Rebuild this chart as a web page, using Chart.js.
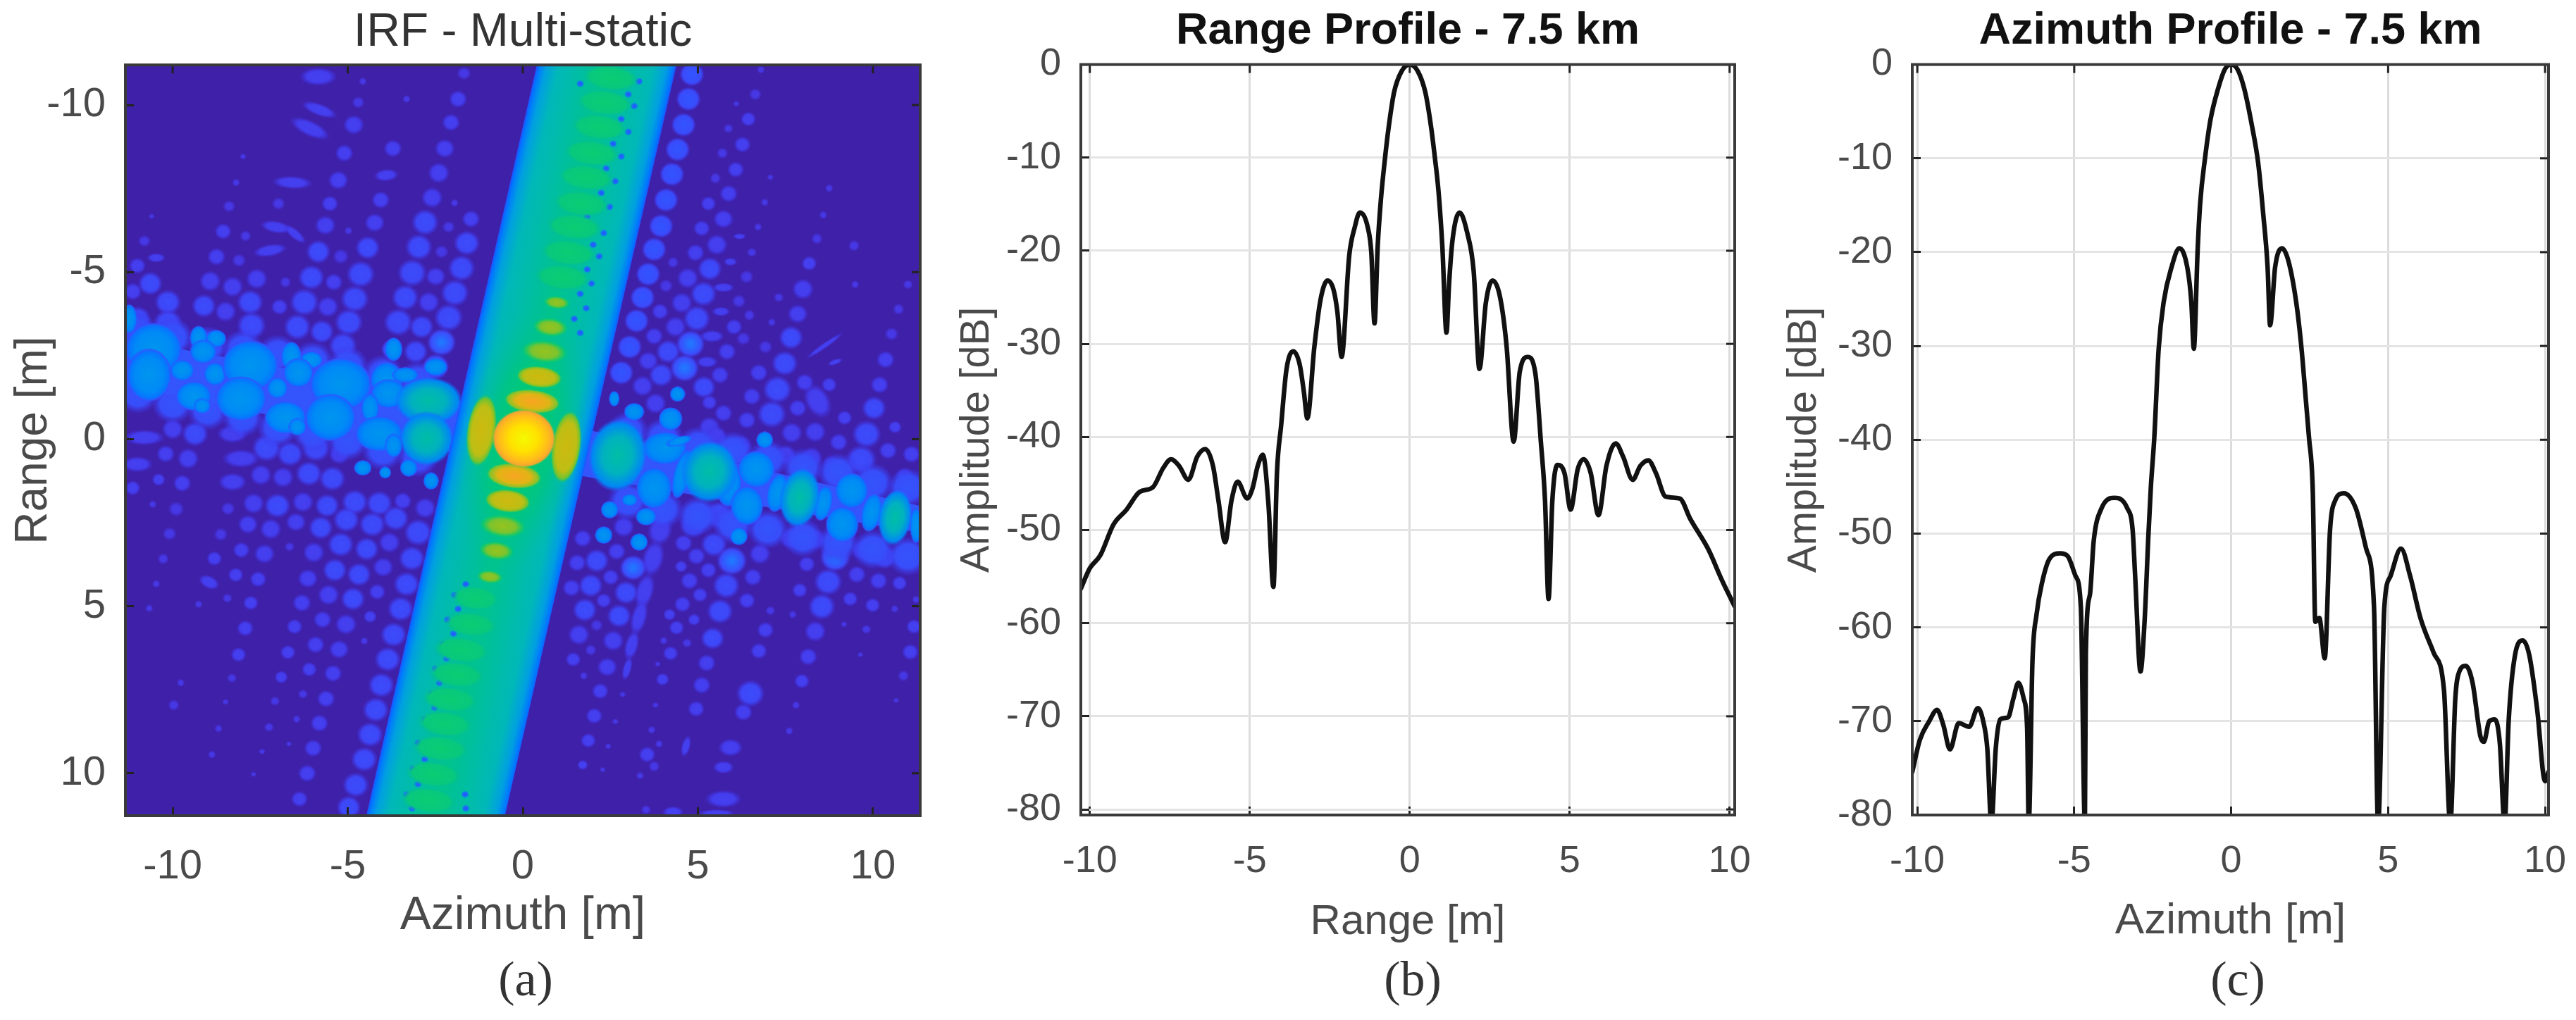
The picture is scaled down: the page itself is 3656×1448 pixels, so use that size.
<!DOCTYPE html>
<html>
<head>
<meta charset="utf-8">
<script src="https://cdn.jsdelivr.net/npm/chart.js@4/dist/chart.umd.min.js"></script>
<style>
  html, body { margin: 0; background: #fff; }
  body { width: 3656px; height: 1448px; position: relative; overflow: hidden; }
  canvas { position: absolute; }
  .cap { position: absolute; top: 1350px; width: 200px; text-align: center;
         font: 70px "Liberation Serif", serif; color: #333; }
</style>
</head>
<body>
<canvas id="heat"></canvas>
<canvas id="rangeChart"></canvas>
<canvas id="azChart"></canvas>
<div class="cap" style="left:646px">(a)</div>
<div class="cap" style="left:1905px">(b)</div>
<div class="cap" style="left:3076px">(c)</div>
<script>
// ---- tick labels
const heatAzTicks = [-10, -5, 0, 5, 10]
const heatRangeTicks = [-10, -5, 0, 5, 10]
const profileXTicks = [-10, -5, 0, 5, 10]
const dbTicks = [0, -10, -20, -30, -40, -50, -60, -70, -80]

// ---- range profile (b)
const rangeX = [-10.28,-10,-9.67,-9.26,-8.85,-8.44,-8.03,-7.7,-7.46,-7.21,-6.92,-6.64,-6.39,-6.15,-5.98,-5.77,-5.57,-5.38,-5.08,-4.92,-4.75,-4.59,-4.42,-4.26,-4.15,-4.02,-3.85,-3.64,-3.44,-3.31,-3.2,-2.98,-2.79,-2.57,-2.38,-2.26,-2.13,-1.89,-1.72,-1.56,-1.31,-1.2,-1.1,-1,-0.9,-0.77,-0.66,-0.49,-0.25,0,0.25,0.49,0.66,0.77,0.9,1.02,1.15,1.23,1.34,1.56,1.8,2,2.18,2.38,2.59,2.82,3.03,3.25,3.44,3.69,3.93,4.1,4.23,4.34,4.46,4.62,4.84,5.03,5.25,5.44,5.66,5.9,6.15,6.44,6.67,6.97,7.21,7.46,7.7,8,8.44,8.77,9.34,9.75,10.16]
const rangeDb = [-56.3,-54.1,-52.7,-49.4,-47.8,-45.9,-45.4,-43.3,-42.4,-43.1,-44.6,-42.1,-41.3,-43.1,-46.8,-51.3,-46.8,-44.8,-46.6,-45.6,-43.1,-41.9,-47,-56.1,-43.9,-38.8,-32.7,-30.8,-32.2,-35.1,-38,-30.3,-25.3,-23.2,-24.2,-26.6,-31.4,-20.5,-17.5,-15.9,-17.5,-20.2,-27.8,-19.5,-14.5,-10,-6.8,-3,-0.7,0,-0.7,-3,-6.5,-9.5,-13.6,-19.5,-28.8,-23.6,-18.8,-15.9,-18.1,-22.2,-32.7,-25.6,-23.2,-24.9,-30.3,-40.5,-33,-31.4,-33.2,-40.5,-46.8,-57.4,-46.8,-43,-43.9,-47.8,-43.5,-42.4,-43.9,-48.4,-43.1,-40.7,-42.1,-44.6,-43.1,-42.5,-43.9,-46.4,-46.6,-48.8,-52.1,-55.3,-58.2]

// ---- azimuth profile (c)
const azX = [-10.16,-9.92,-9.62,-9.37,-9.17,-8.96,-8.68,-8.35,-8.07,-7.9,-7.77,-7.64,-7.5,-7.36,-7.11,-6.94,-6.78,-6.61,-6.5,-6.45,-6.33,-6.2,-6.03,-5.79,-5.45,-5.21,-4.96,-4.79,-4.66,-4.63,-4.5,-4.38,-4.13,-3.72,-3.31,-3.14,-3.06,-2.89,-2.76,-2.64,-2.56,-2.45,-2.31,-2.15,-1.9,-1.65,-1.4,-1.27,-1.19,-1.07,-0.99,-0.83,-0.66,-0.41,-0.2,0,0.2,0.41,0.66,0.86,1.02,1.16,1.24,1.4,1.62,1.82,2.07,2.23,2.4,2.48,2.6,2.68,2.81,2.98,3.15,3.31,3.59,3.97,4.3,4.55,4.68,4.88,5.08,5.41,5.7,6.03,6.45,6.78,6.98,7.14,7.27,7.47,7.69,7.94,8.05,8.22,8.4,8.56,8.71,8.84,9.04,9.29,9.5,9.75,10,10.11]
const azDb = [-75.4,-72,-70,-68.8,-70.4,-73,-70.2,-70.6,-68.6,-70,-72.9,-81,-72.9,-69.8,-69.6,-67.6,-65.9,-67.6,-70.8,-81,-63.5,-58.6,-55.3,-52.7,-52.1,-52.4,-54.5,-57.8,-81,-62.7,-56.5,-50.8,-47.3,-46.2,-47.3,-49.6,-54.5,-64.7,-59.4,-50.4,-45.1,-39.8,-30.3,-25.3,-21.6,-19.6,-21.6,-25.3,-30.3,-19.9,-14.9,-9.9,-5.9,-2.5,-0.5,0,-0.5,-2.5,-6.5,-10.5,-15.9,-21.6,-27.8,-21.6,-19.6,-20.9,-25.3,-29.9,-36.6,-39.8,-45.5,-59.4,-59,-63.3,-49.6,-46.5,-45.7,-47.3,-51.6,-57.8,-81,-57.8,-54.5,-51.6,-54.5,-59,-62.7,-66.7,-81,-67.6,-64.7,-64.1,-65.9,-71.6,-72.2,-70,-69.8,-72.4,-81,-70,-63,-61.4,-63,-68.8,-76.4,-75.4]

// ---- IRF image (a), all in metres: [azimuth, range, radius]
const faintLobes = [
  [-1.68,-10.95,.17],[-4.7,-10.08,.15],[-4.57,-10.71,.1],[-3.32,-10.18,.1],[-7.99,-8.46,.08],[-8.19,-7.68,.1],[-8.39,-6.97,.15],[-6.98,-7.05,.16],[-10.6,-6.67,.07],[-1.95,-7.07,.1],[-4.98,-6.24,.1],[-7.92,-6.08,.14],[-10.81,-5.93,.15],[-2.12,-6.35,.15],[-2.32,-5.61,.17],[-5.2,-5.47,.19],[-8.11,-5.35,.17],[-6.78,-4.7,.14],
  [-10.57,1.95,.1],[-6.66,3.22,.12],[-10.27,3.58,.14],[-10.47,4.33,.1],[-8.44,4.76,.12],[-10.67,5.06,.1],[-9.26,4.94,.1],[-4.53,6.04,.1],[-8.31,7.15,.12],[-9.77,7.29,.1],[-7.08,7.84,.12],[-6.28,7.63,.12],[-9.97,7.96,.14],[-8.49,7.86,.08],[-7.25,8.62,.12],[-6.46,8.38,.1],[-8.69,8.66,.1],[-7.45,9.35,.08],[-8.88,9.44,.1],[-6.68,9.12,.07],[-7.69,10.03,.07],[-10.09,2.83,.17],[-8.63,2.85,.17],[-9.9,2.09,.19],[-8.42,2.08,.17],
  [6.8,-11.06,.1],[6.64,-10.32,.15],[6.1,-10.04,.08],[5.87,-9.3,.12],[5.7,-8.56,.14],[5.5,-7.81,.14],[7.07,-7.84,.08],[6.91,-7.09,.1],[6.72,-6.35,.1],[6.54,-5.59,.11],[8.75,-7.51,.1],[8.58,-6.71,.1],[8.4,-6,.14],[9.46,-5.79,.14],[9.49,-4.63,.1],[11,-4.63,.12],[10.73,-3.89,.14],[7.31,-4.24,.12],[7.11,-3.5,.1],[6.47,-3.71,.14],[4.29,-5.29,.14],[4.09,-4.59,.17],[6.39,-4.86,.17],[6.17,-4.13,.17],[6.3,-3.01,.17],[6.93,-2.76,.17],[10.53,-3.15,.17],
  [3.68,8.7,.1],[3.79,7.96,.08],[3.85,6.73,.07],[2.85,7.64,.08],[2.64,8.45,.08],[2.44,9.19,.08],[2.28,9.89,.07],[1.74,7.08,.1],[1.94,6.31,.14],[2.11,5.57,.15],[7.71,5.25,.1],[7.8,7.96,.1],[7.61,8.73,.1],[9.17,5.54,.08],[9.81,5.69,.12],[9.64,6.45,.07],[10.62,5.08,.1],[10.87,7.08,.14],[10.66,7.82,.07],[11.23,4.8,.1],[7.07,5.13,.12],[3.89,9.12,.1],[3.75,9.79,.14],[3.52,11.09,.12],[3.35,10.07,.1],[4.02,6.03,.1],[4.69,6.1,.12]
]
const blueLobes = [
  [-1.85,-10.18,.2],[-4.83,-9.41,.23],[-2.05,-9.48,.2],[-5.1,-8.56,.2],[-3.71,-8.7,.2],[-2.23,-8.7,.22],[-5.27,-7.75,.22],[-2.4,-7.97,.24],[-5.51,-7.05,.19],[-4.06,-7.16,.2],[-2.59,-7.23,.24],[-8.56,-6.22,.19],[-5.64,-6.4,.23],[-4.23,-6.48,.22],[-2.79,-6.49,.29],[-1.48,-6.59,.2],[-8.75,-5.46,.2],[-11.01,-5.19,.19],[-5.84,-5.61,.26],[-4.43,-5.73,.26],[-2.97,-5.75,.29],[-1.6,-5.87,.28],[-8.93,-4.73,.24],[-8.29,-4.56,.24],[-7.6,-4.8,.24],[-11.14,-4.42,.2],[-6.04,-4.84,.28],[-5.4,-4.7,.2],[-4.63,-4.94,.3],[-3.16,-4.98,.31],[-2.49,-4.87,.22],[-1.75,-5.12,.29],[-9.11,-3.99,.26],[-8.49,-3.82,.24],[-7.79,-4.1,.28],[-6.95,-3.96,.19],[-6.24,-4.1,.31],[-5.57,-3.96,.24],[-4.8,-4.2,.3],[-3.36,-4.24,.29],[-2.69,-4.1,.24],[-1.94,-4.38,.3],[-6.44,-3.36,.29],[-5.74,-3.22,.26],[-4.97,-3.5,.3],[-3.56,-3.5,.31],[-2.89,-3.36,.26],[-2.12,-3.64,.31],[-7.75,-3.4,.31],[-10.14,-4.1,.28],[-10.64,-4.66,.26],[-5.14,-2.8,.3],[-3.06,-2.62,.26],[-10.14,-3.47,.31],[-11,-3.6,.28],
  [-10,-.3,.24],[-9.36,-.16,.28],[-10.2,.44,.2],[-9.56,.58,.24],[-10.4,1.21,.15],[-9.73,1.32,.2],[-11.14,1.46,.17],[-7.32,.26,.31],[-6.65,.44,.28],[-5.91,.26,.31],[-5.24,.44,.24],[-7.48,1.07,.24],[-6.85,1.14,.24],[-6.11,1.03,.28],[-5.44,1.18,.28],
  [-7.69,1.92,.24],[-7.01,1.99,.28],[-6.28,1.88,.24],[-5.59,1.99,.26],[-4.8,1.88,.28],[-4.1,1.92,.28],[-3.43,1.85,.2],[-2.79,2.06,.24],[-7.85,2.55,.22],[-7.2,2.69,.24],[-6.48,2.48,.22],[-5.77,2.65,.26],[-5.04,2.41,.28],[-4.3,2.55,.28],[-3.63,2.37,.28],[-2.99,2.79,.3],[-8.04,3.32,.19],[-7.38,3.43,.23],[-5.97,3.39,.24],[-5.2,3.15,.28],[-4.46,3.29,.26],[-3.81,3.09,.24],[-3.17,3.57,.28],[-8.81,3.57,.17],[-8.2,4.06,.17],[-7.56,4.19,.19],[-6.14,4.17,.22],[-5.37,3.92,.26],[-4.68,4.05,.26],[-3.99,3.83,.23],[-3.32,4.34,.28],[-7.77,4.9,.17],[-6.31,4.9,.21],[-5.55,4.66,.24],[-4.85,4.78,.26],[-4.16,4.57,.19],[-3.49,5.08,.28],[-7.93,5.66,.19],[-6.52,5.61,.18],[-5.72,5.4,.2],[-5.05,5.54,.24],[-4.36,5.31,.15],[-3.69,5.85,.28],[-8.12,6.45,.17],[-6.71,6.38,.17],[-5.92,6.15,.2],[-5.25,6.29,.22],[-3.86,6.59,.28],[-6.9,7.12,.15],[-6.1,6.89,.17],[-5.42,7.01,.2],[-4.04,7.36,.28],[-5.62,7.77,.2],[-4.2,8.1,.28],[-5.81,8.5,.2],[-4.36,8.84,.28],[-5.99,9.25,.2],[-4.53,9.58,.28],[-6.16,10,.2],[-6.38,10.77,.19],[-4.77,10.35,.28],[-4.97,11.02,.26],
  [6.44,-9.58,.17],[6.27,-8.82,.19],[6.08,-8.07,.19],[5.88,-7.35,.2],[5.3,-7.05,.17],[5.73,-6.59,.22],[5.11,-6.31,.19],[5.54,-5.82,.24],[4.93,-5.58,.2],[5.34,-5.1,.26],[4.71,-4.82,.24],[5.16,-4.35,.28],[4.54,-4.08,.24],[4.97,-3.61,.29],[4.36,-3.36,.24],[4.15,-2.62,.26],[3.95,-1.92,.26],[3.92,-3.82,.19],[3.75,-3.08,.2],[3.58,-2.34,.22],[6.03,-3.36,.19],[5.83,-2.62,.2],[5.63,-1.92,.2],[8.18,-5.26,.17],[8,-4.49,.24],[7.85,-3.75,.22],[7.66,-3.04,.26],[7.48,-2.27,.28],[6.74,-1.99,.2],[10.36,-2.38,.2],
  [3.42,-1.59,.24],[7.27,-1.49,.31],[8.75,-1.63,.17],[10.19,-1.63,.2],[8.05,-1.7,.2],[6.54,-1.28,.2],[5.17,-1.56,.25],[10.03,-.93,.26],[7.85,-.93,.2],[7.11,-.75,.32],[9.19,-.64,.17],[8.35,-.22,.24],[7.68,-.19,.24],[9.82,-.15,.31],[9.02,.09,.2],[10.63,-.36,.15],[5.33,-1.1,.17],[5.73,-.78,.2],[6.4,-.57,.2],[5.33,-.36,.24],[5.53,-.08,.24],[6.23,.2,.24],[7.51,.48,.24],[8.25,.55,.24],[8.82,.76,.2],[9.66,.62,.33],[10.43,.34,.2],[11.1,.45,.2],[10.9,1.11,.2],[10.16,1.25,.2],[3.79,-1.07,.24],
  [2.88,2.62,.24],[2.11,3.64,.26],[1.94,4.38,.26],[2.95,4.59,.26],[1.77,5.11,.26],[2.75,5.29,.26],[1.6,5.85,.24],[2.58,6.03,.24],[1.44,6.59,.17],[2.41,6.82,.22],[2.21,7.54,.19],[2.04,8.28,.19],[1.87,9.02,.17],[1.71,9.75,.12],[1.71,2.97,.2],[1.55,3.7,.2],[1.39,4.45,.2],[2.68,3.36,.2],[2.51,4.13,.19],[2.31,4.83,.17],
  [4.86,2.58,.28],[4.59,3.11,.2],[4.96,3.5,.2],[5.3,3.92,.19],[4.76,4.24,.2],[5.06,4.66,.17],[4.52,3.81,.14],[4.56,4.94,.19],[4.89,5.4,.14],[4.39,5.64,.17],[4.19,5.25,.14],[4.22,6.41,.17],[3.99,7.19,.15],[5.6,2.27,.31],[5.46,3.15,.28],[5.81,4.38,.29],[5.63,5.15,.28],[5.42,5.96,.25],[5.25,6.7,.2],[5.11,7.36,.2],[4.95,8.07,.19],[6.4,4.83,.19],[6.57,4.13,.2],[6.77,3.43,.24],[6.94,2.65,.28],[6.93,5.71,.19],[6.74,6.34,.19],[8.11,3.74,.19],[7.91,4.52,.17],[7.64,2.97,.24],[8.35,3,.24],[8.72,4.27,.3],[8.54,5.01,.29],[8.35,5.75,.24],[8.15,6.51,.2],[7.97,7.24,.17],[9.69,3.32,.24],[9.54,4.05,.2],[9.35,4.78,.17],[10.33,3.53,.26],[10.16,4.24,.2],[9.99,4.97,.17],[10.76,4.31,.17],[10.97,3.57,.2],[11.17,5.61,.17],[11.07,6.37,.19],[6.5,7.61,.3],[6.3,8.17,.2],[3.55,9.44,.19]
]
const brightLobes = [
  [-2.32,-2.9,.31],[-3.73,-2.69,.24],[-2.49,-2.17,.29],[4.79,-2.85,.31],[4.62,-2.13,.31],[3.15,3.85,.29],[5.97,3.64,.33],[8.92,3.53,.33]
]
const stripLobes = [
  [4.83,-10.92,.28],[4.73,-10.18,.28],[4.59,-9.41,.28],[4.42,-8.67,.28],[4.26,-7.93,.28],[4.09,-7.16,.28],[3.95,-6.38,.28],[3.75,-5.68,.28],[3.58,-4.94,.28],[3.42,-4.24,.28],[3.25,-3.54,.28],[3.05,-2.76,.28],[2.81,-1.99,.28]
]
// lumpy rim of the cross band
const rimLobes = [
  [-11,-3.2,.5],[-10,-3.05,.5],[-9,-2.8,.5],[-8,-2.7,.5],[-7,-2.55,.5],[-6,-2.35,.5],[-5,-2.2,.5],[-4,-1.95,.5],[-3,-1.75,.5],
  [-11,-1.35,.5],[-10,-1.05,.5],[-9,-.85,.5],[-8,-.65,.5],[-7,-.35,.5],[-6,-.2,.5],[-5,.05,.5],[-4,.35,.5],[-3,.55,.5],
  [3,-.25,.5],[4,-.05,.5],[5,.2,.5],[6,.35,.5],[7,.6,.5],[8,.85,.5],[9,1,.5],[10,1.3,.5],[11,1.45,.5],
  [3,1.85,.5],[4,2.1,.5],[5,2.3,.5],[6,2.55,.5],[7,2.7,.5],[8,2.95,.5],[9,3.1,.5],[10,3.3,.5],[11,3.5,.5]
]
// [azimuth, range, half width, half height, tilt in degrees]
const tiltedLobes = [
  [-5.84,-10.85,.41,.21,0],[-5.81,-9.86,.41,.14,20],[-6.08,-9.3,.47,.18,25],[-6.58,-7.68,.44,.15,3],[-3.9,-7.9,.27,.14,-5],[-7.05,-6.35,.34,.14,10],[-6.51,-6.14,.3,.11,40],[-7.22,-5.65,.37,.14,-10],[-10.47,-5.43,.2,.11,0],[-10.81,-.05,.45,.18,0],[-11.01,.75,.34,.18,0],[-8.29,-.16,.34,.21,0],[-8.05,.58,.41,.21,0],[-8.29,1.28,.31,.21,0],[-8.96,4.28,.24,.15,25],
  [5.73,-4.54,.24,.11,0],[5.66,-3.82,.2,.11,0],[5.4,-3.08,.27,.14,0],[5.26,-2.31,.24,.13,0],[5.93,-5.31,.15,.09,0],[6.19,-6.07,.14,.07,0],[8.62,-2.8,.5,.06,-35],[8.92,-2.31,.17,.06,-20],[8.42,-1.14,.27,.42,-30],
  [3.92,2.72,.27,.35,15],[3.72,3.57,.24,.42,15],[3.48,4.55,.2,.42,15],[3.32,5.33,.17,.42,15],[3.11,6.17,.15,.35,15],[2.98,6.87,.1,.28,15],
  [5.93,9.23,.27,.2,0],[5.73,9.82,.23,.15,0],[5.73,10.77,.4,.2,0],[5.53,11.2,.4,.09,0],[4.29,11.16,.23,.13,0],[4.66,9.19,.1,.25,15]
]
const crossLobes = [
  [-10.54,-2.69,.64,.63,0],[-10.67,-1.92,.5,.63,0],[-9.26,-3.04,.2,.28,0],[-8.76,-3.01,.23,.21,0],[-9.13,-2.62,.3,.28,0],[-9.4,-1.29,.4,.35,0],[-9.16,-1,.19,.18,0],[-8.79,-1.95,.25,.27,0],[-9.73,-2.06,.27,.25,0],[-7.79,-2.2,.64,.6,0],[-8.05,-1.21,.57,.53,0],[-6.61,-2.48,.23,.35,0],[-6.04,-2.37,.25,.2,0],[-6.41,-1.99,.34,.35,0],[-7.01,-1.53,.23,.25,0],[-6.78,-.65,.47,.39,0],[-6.44,-.37,.2,.21,0],[-5.2,-1.64,.7,.63,0],[-5.5,-.65,.57,.56,0],[-3.89,-1.78,.37,.42,0],[-3.36,-1.92,.3,.18,0],[-3.83,-1.36,.4,.35,0],[-4.36,-.93,.2,.35,0],[-4.1,-.16,.54,.42,0],[-3.69,.19,.2,.28,0],[-3.69,-2.69,.2,.28,0],[-2.49,-2.16,.27,.21,0],[-3.26,.86,.2,.21,0],[-2.62,1.25,.17,.21,0],[-4.57,.86,.2,.18,0],[-3.93,1,.13,.14,0],[-11.24,-3.6,.17,.35,0],
  [4.05,.27,.5,.39,0],[4.46,.06,.3,.11,-15],[3.75,1.46,.4,.49,0],[5.87,1.32,.3,.56,0],[4.56,1.04,.2,.6,15],[6.67,.9,.42,.44,0],[6.4,1.99,.37,.46,0],[7.27,1.61,.23,.46,12],[8.58,1.92,.2,.42,12],[9.39,1.54,.37,.42,0],[9.12,2.55,.37,.42,0],[9.96,2.2,.22,.46,12],[11.23,2.59,.13,.42,0],
  [3.18,-.82,.23,.21,0],[4.22,-.61,.27,.27,0],[4.42,-1.35,.17,.18,0],[2.61,-1.21,.12,.18,0],[2.48,2.11,.21,.21,0],[3.52,2.32,.23,.22,0],[3.05,1.82,.17,.14,0],[6.17,2.91,.2,.21,0],[6.91,.02,.19,.2,0],[2.31,2.87,.2,.21,0],[3.32,3.08,.2,.21,0]
]
const tealLobes = [[2.71,.48,.69,.91,8],[5.33,.97,.67,.77,10],[7.91,1.75,.47,.74,10],[10.63,2.34,.4,.7,8],[-2.69,-1.14,.8,.6,0],[-2.75,-.02,.64,.67,0]]
// blue wash the cross lobes sit in
const washAz = [-11.35,-2,2.2,11.35,11.35,2.2,-2,-11.35,-11.35]
const washRange = [-3,-1.2,-.2,2,2.8,1.2,.4,-1.6,-3]
// tilted main band corners
const bandAz = [0.4, 4.39, -0.51, -4.47, 0.4]
const bandRange = [-11.2, -11.2, 11.27, 11.27, -11.2]
const bandDots = [
  [1.64,-10.64],[3.32,-10.71],[3.01,-10.32],[3.18,-9.97],[2.81,-9.58],[3.01,-9.2],[2.58,-8.84],[2.81,-8.46],[2.38,-8.1],[2.64,-7.72],[2.24,-7.37],[2.48,-6.95],[1.84,-6.67],[2.31,-6.17],[2.01,-5.82],[2.18,-5.47],[1.84,-5.08],[1.96,-4.66],[1.64,-4.35],[1.81,-3.92],[1.47,-3.6],[1.64,-3.18],
  [-1.63,4.34],[-1.95,4.66],[-1.85,5.08],[-2.15,5.4],[-1.98,5.82],[-2.28,6.13],[-2.18,6.56],[-2.5,6.87],[-2.38,7.29],[-2.6,7.61],[-2.52,8.03],[-2.8,8.38],[-2.99,9.09],[-2.8,9.58],[-3.14,9.86],[-2.99,10.32],[-3.32,10.63],[-3.16,11.05],[-1.65,10.63],[-1.63,11.05]
]
const greenLobes = [
  [2.51,-10.81,.64,.32,6],[2.34,-10.07,.64,.32,6],[2.18,-9.34,.64,.32,6],[1.97,-8.56,.64,.32,6],[1.81,-7.83,.64,.32,6],[1.67,-7.05,.64,.32,6],[1.47,-6.35,.64,.32,6],[1.3,-5.58,.64,.32,6],[1.13,-4.84,.64,.32,6],
  [-1.35,4.76,.55,.3,6],[-1.48,5.54,.6,.3,6],[-1.75,6.31,.64,.32,6],[-1.88,7.05,.64,.32,6],[-2.08,7.79,.64,.32,6],[-2.22,8.52,.64,.32,6],[-2.35,9.26,.64,.32,6],[-2.55,10.03,.64,.32,6],[-2.69,10.81,.64,.32,6]
]
const oliveLobes = [
  [.97,-4.09,.27,.14,6],[-.94,4.12,.27,.14,6],[.79,-3.35,.37,.2,6],[-.75,3.34,.37,.2,6],[.62,-2.62,.48,.25,6],[-.57,2.6,.48,.25,6]
]
const amberLobes = [
  [.47,-1.86,.57,.28,6],[-.43,1.85,.57,.3,6],[-1.18,-.26,.37,.95,8],[1.24,.23,.37,.95,8]
]
const orangeLobes = [[.27,-1.13,.67,.3,6],[-.25,1.1,.66,.32,6]]
const peakLobe = [[.03,-.02,.86,.83,0]]
const bandGlow = [[0,0,1.7,4.2,12]]

// colour stops of each lobe class, from centre to edge
const lobeStops = {
  faint:  [[0,'rgba(70,56,228,1)'],[.5,'rgba(70,56,228,1)'],[1,'rgba(70,50,220,0)']],
  mid:    [[0,'rgba(68,64,240,1)'],[.6,'rgba(68,62,238,1)'],[1,'rgba(66,50,225,0)']],
  blue:   [[0,'rgba(60,76,252,1)'],[.62,'rgba(62,72,248,1)'],[1,'rgba(66,56,235,0)']],
  bright: [[0,'rgba(30,125,255,1)'],[.4,'rgba(45,100,255,1)'],[.72,'rgba(60,78,252,1)'],[1,'rgba(66,60,240,0)']],
  strip:  [[0,'rgba(50,85,255,1)'],[.72,'rgba(58,76,252,1)'],[1,'rgba(66,60,240,0)']],
  rim:    [[0,'rgba(52,84,252,1)'],[.6,'rgba(56,78,250,1)'],[1,'rgba(66,56,235,0)']],
  cross:  [[0,'rgba(0,150,238,1)'],[.66,'rgba(0,138,247,1)'],[.88,'rgba(10,115,255,1)'],[.95,'rgba(50,85,255,.9)'],[1,'rgba(60,70,250,0)']],
  teal:   [[0,'rgba(0,190,165,1)'],[.5,'rgba(0,178,190,1)'],[.86,'rgba(0,135,245,1)'],[1,'rgba(30,100,255,0)']],
  glow:   [[0,'rgba(0,205,100,.95)'],[.55,'rgba(0,200,120,.7)'],[1,'rgba(0,190,150,0)']],
  dot:    [[0,'rgba(35,85,255,1)'],[.6,'rgba(30,100,255,.9)'],[1,'rgba(0,160,220,0)']],
  green:  [[0,'rgba(10,205,115,1)'],[.72,'rgba(8,200,125,1)'],[1,'rgba(0,185,160,0)']],
  olive:  [[0,'rgba(150,195,30,1)'],[.55,'rgba(125,195,45,1)'],[.8,'rgba(30,200,100,1)'],[1,'rgba(0,200,120,0)']],
  amber:  [[0,'rgba(205,185,15,1)'],[.68,'rgba(190,190,20,1)'],[.88,'rgba(110,195,50,1)'],[1,'rgba(10,200,110,0)']],
  orange: [[0,'rgba(250,165,35,1)'],[.6,'rgba(225,180,20,1)'],[.88,'rgba(130,195,45,1)'],[1,'rgba(10,200,110,0)']],
  peak:   [[0,'rgba(245,250,0,1)'],[.45,'rgba(255,225,0,1)'],[.8,'rgba(255,185,30,1)'],[.93,'rgba(245,165,50,1)'],[1,'rgba(120,195,50,0)']]
}
// the soft edge eats into a lobe, so each class is drawn a bit wider than read
const lobeGrow = { faint: 1.25, mid: 1.35, blue: 1.4, bright: 1.35, strip: 1.3, rim: 1.2, cross: 1.28, teal: 1.22, glow: 1, dot: 1.2, green: 1.3, olive: 1.4, amber: 1.15, orange: 1.2, peak: 1.05 }

// soft ellipse sprite, built once per size and class
const spriteCache = {}
function lobeSprite(w, h, cls) {
  const key = cls + Math.round(w) + 'x' + Math.round(h)
  if (spriteCache[key]) return spriteCache[key]
  const c = document.createElement('canvas')
  c.width = Math.max(2, Math.round(w * 2))
  c.height = Math.max(2, Math.round(h * 2))
  const g = c.getContext('2d')
  g.translate(c.width / 2, c.height / 2)
  g.scale(c.width / 2, c.height / 2)
  const grad = g.createRadialGradient(0, 0, 0, 0, 0, 1)
  lobeStops[cls].forEach((s) => grad.addColorStop(s[0], s[1]))
  g.fillStyle = grad
  g.beginPath()
  g.arc(0, 0, 1, 0, Math.PI * 2)
  g.fill()
  spriteCache[key] = c
  return c
}

//one scatter dataset of soft lobes
function lobeSet(list, cls, drawOrder) {
  return {
    data: list.map((p) => p.length > 3
      ? { x: p[0], y: p[1], w: p[2], h: p[3], deg: p[4] }
      : { x: p[0], y: p[1], w: p[2], h: p[2], deg: 0 }),
    order: drawOrder,
    pointRadius: 1,
    pointBorderWidth: 0,
    pointRotation: (c) => c.raw ? c.raw.deg : 0,
    pointStyle: (c) => {
      const sx = c.chart.scales.x, sy = c.chart.scales.y
      if (!c.raw || !sx || !sy) return 'circle'
      const pxX = Math.abs(sx.getPixelForValue(1) - sx.getPixelForValue(0))
      const pxY = Math.abs(sy.getPixelForValue(1) - sy.getPixelForValue(0))
      if (!isFinite(pxX) || !isFinite(pxY)) return 'circle'
      return lobeSprite(c.raw.w * pxX * lobeGrow[cls], c.raw.h * pxY * lobeGrow[cls], cls)
    }
  }
}

//gradient straight across the tilted band
function bandFill(c) {
  const sx = c.chart.scales.x, sy = c.chart.scales.y
  if (!sx || !sy) return '#00be9c'
  const p = (i) => [sx.getPixelForValue(bandAz[i]), sy.getPixelForValue(bandRange[i])]
  const a = p(0), b = p(1), d = p(3)
  let nx = d[1] - a[1], ny = a[0] - d[0]
  const len = Math.hypot(nx, ny)
  nx /= len; ny /= len
  const across = (b[0] - a[0]) * nx + (b[1] - a[1]) * ny
  const gx = (a[0] + d[0]) / 2, gy = (a[1] + d[1]) / 2
  if (!isFinite(gx + gy + nx + ny + across)) return '#00be9c'
  const g = c.chart.ctx.createLinearGradient(gx, gy, gx + nx * across, gy + ny * across)
  g.addColorStop(0, '#2050ff')
  g.addColorStop(.02, '#0078ff')
  g.addColorStop(.07, '#00a0e0')
  g.addColorStop(.16, '#00b8b8')
  g.addColorStop(.5, '#00c48c')
  g.addColorStop(.84, '#00b8b8')
  g.addColorStop(.93, '#00a0e0')
  g.addColorStop(.98, '#0078ff')
  g.addColorStop(1, '#2050ff')
  return g
}

//frame round the plot with the ticks mirrored on the far sides, like a boxed MATLAB axes
const framePlugin = {
  id: 'frame',
  afterDraw(chart) {
    const a = chart.chartArea, g = chart.ctx
    g.save()
    g.strokeStyle = '#222'
    g.lineWidth = 3
    chart.scales.x.ticks.forEach((t) => {
      const p = chart.scales.x.getPixelForValue(t.value)
      g.beginPath(); g.moveTo(p, a.top); g.lineTo(p, a.top + 12); g.stroke()
    })
    chart.scales.y.ticks.forEach((t) => {
      const p = chart.scales.y.getPixelForValue(t.value)
      g.beginPath(); g.moveTo(a.right, p); g.lineTo(a.right - 12, p); g.stroke()
    })
    g.strokeStyle = '#3a3a3a'
    g.lineWidth = 4
    g.strokeRect(a.left, a.top, a.right - a.left, a.bottom - a.top)
    g.restore()
  }
}
const heatBackground = {
  id: 'heatBackground',
  beforeDatasetsDraw(chart) {
    const a = chart.chartArea
    chart.ctx.fillStyle = '#3f20a8'
    chart.ctx.fillRect(a.left, a.top, a.right - a.left, a.bottom - a.top)
  }
}

const tickColor = '#4a4a4a'
function panel(id, left, top, width, height) {
  const el = document.getElementById(id)
  el.width = width; el.height = height
  el.style.left = left + 'px'; el.style.top = top + 'px'
  el.style.width = width + 'px'; el.style.height = height + 'px'
  return el.getContext('2d')
}

function axes(cfg) {
  return {
    x: {
      type: 'linear', min: cfg.xMin, max: cfg.xMax,
      afterBuildTicks: (s) => { s.ticks = cfg.xTicks.map((v) => ({ value: v })) },
      afterFit: (s) => { s.height = cfg.bottomSpace; s.paddingLeft = 0; s.paddingRight = 0 },
      grid: { drawOnChartArea: cfg.grid, color: '#dcdcdc', lineWidth: 3, tickColor: '#222', tickLength: -12, z: cfg.grid ? 0 : 1 },
      border: { display: false },
      ticks: { autoSkip: false, maxRotation: 0, padding: cfg.xPad, color: tickColor, font: { family: 'Liberation Sans', size: cfg.tickSize }, callback: (v) => String(v) },
      title: { display: true, text: cfg.xTitle, color: tickColor, padding: 0, font: { family: 'Liberation Sans', size: cfg.xTitleSize } }
    },
    y: {
      type: 'linear', min: cfg.yMin, max: cfg.yMax, reverse: cfg.yReverse,
      afterBuildTicks: (s) => { s.ticks = cfg.yTicks.map((v) => ({ value: v })) },
      afterFit: (s) => { s.width = cfg.leftSpace; s.paddingTop = 0; s.paddingBottom = 0 },
      grid: { drawOnChartArea: cfg.grid, color: '#e4e4e4', lineWidth: 3, tickColor: '#222', tickLength: -12, z: cfg.grid ? 0 : 1 },
      border: { display: false },
      ticks: { autoSkip: false, padding: cfg.yPad, color: tickColor, font: { family: 'Liberation Sans', size: cfg.tickSize }, callback: (v) => String(v) },
      title: { display: true, text: cfg.yTitle, color: tickColor, padding: 0, font: { family: 'Liberation Sans', size: cfg.yTitleSize } }
    }
  }
}

function chartOptions(cfg) {
  return {
    responsive: false, animation: false, events: [],
    layout: { padding: { right: cfg.rightSpace, top: 0, bottom: 0, left: 0 } },
    plugins: {
      legend: { display: false }, tooltip: { enabled: false },
      title: { display: true, fullSize: false, text: cfg.title, color: cfg.titleColor, padding: { top: cfg.titleTop, bottom: cfg.titleBottom },
               font: { family: 'Liberation Sans', size: cfg.titleSize, weight: cfg.titleWeight } }
    },
    scales: axes(cfg)
  }
}

// ---- (a) IRF image
const heatChart = new Chart(panel('heat', 10, 0, 1330, 1340), {
  type: 'scatter',
  data: { datasets: [
    lobeSet(peakLobe, 'peak', 1),
    lobeSet(orangeLobes, 'orange', 2),
    lobeSet(amberLobes, 'amber', 3),
    lobeSet(oliveLobes, 'olive', 4),
    lobeSet(greenLobes, 'green', 5),
    lobeSet(bandDots.map((d) => [d[0], d[1], .1]), 'dot', 6),
    lobeSet(bandGlow, 'glow', 7),
    { data: bandAz.map((v, i) => ({ x: v, y: bandRange[i] })), order: 8, showLine: true, fill: 'shape',
      backgroundColor: bandFill, borderWidth: 0, pointRadius: 0 },
    lobeSet(tealLobes, 'teal', 9),
    lobeSet(crossLobes, 'cross', 10),
    { data: washAz.map((v, i) => ({ x: v, y: washRange[i] })), order: 11, showLine: true, fill: 'shape',
      backgroundColor: 'rgba(52,84,252,1)', borderWidth: 0, pointRadius: 0 },
    lobeSet(rimLobes, 'rim', 11.5),
    lobeSet(stripLobes, 'strip', 12),
    lobeSet(brightLobes, 'bright', 13),
    lobeSet(blueLobes.filter((p) => p[2] >= .25), 'blue', 14),
    lobeSet(blueLobes.filter((p) => p[2] < .25), 'mid', 15),
    lobeSet(tiltedLobes, 'mid', 16),
    lobeSet(faintLobes, 'faint', 17)
  ] },
  options: chartOptions({
    xMin: -11.35, xMax: 11.35, yMin: -11.2, yMax: 11.27, yReverse: true,
    xTicks: heatAzTicks, yTicks: heatRangeTicks, grid: false,
    xTitle: 'Azimuth [m]', yTitle: 'Range [m]', title: 'IRF - Multi-static',
    titleColor: '#333', titleSize: 66, titleWeight: 'normal', titleTop: 7, titleBottom: 6,
    tickSize: 58, xTitleSize: 66, yTitleSize: 64, xPad: 50, yPad: 40, leftSpace: 168, bottomSpace: 182, rightSpace: 34
  }),
  plugins: [heatBackground, framePlugin]
})
// scales only have pixels after the first layout, so resolve the sprites again
heatChart.update()

// ---- (b), (c) profiles
function profile(id, left, xs, ys, cfg) {
  new Chart(panel(id, left, 0, cfg.width, 1345), {
    type: 'scatter',
    data: { datasets: [{
      data: xs.map((v, i) => ({ x: v, y: ys[i] })),
      showLine: true, borderColor: '#111', borderWidth: 6.5, pointRadius: 0,
      cubicInterpolationMode: 'monotone', borderJoinStyle: 'round', borderCapStyle: 'round'
    }] },
    options: chartOptions(cfg),
    plugins: [framePlugin]
  })
}

profile('rangeChart', 1352, rangeX, rangeDb, {
  width: 1200, xMin: -10.28, xMax: 10.16, yMin: -80.6, yMax: 0, yReverse: false,
  xTicks: profileXTicks, yTicks: dbTicks, grid: true,
  xTitle: 'Range [m]', yTitle: 'Amplitude [dB]', title: 'Range Profile - 7.5 km',
  titleColor: '#111', titleSize: 63, titleWeight: 'bold', titleTop: 7, titleBottom: 9,
  tickSize: 54, xTitleSize: 60, yTitleSize: 58, xPad: 46, yPad: 40, leftSpace: 182, bottomSpace: 188, rightSpace: 90
})

profile('azChart', 2526, azX, azDb, {
  width: 1130, xMin: -10.16, xMax: 10.11, yMin: -80, yMax: 0, yReverse: false,
  xTicks: profileXTicks, yTicks: dbTicks, grid: true,
  xTitle: 'Azimuth [m]', yTitle: 'Amplitude [dB]', title: 'Azimuth Profile - 7.5 km',
  titleColor: '#111', titleSize: 63, titleWeight: 'bold', titleTop: 7, titleBottom: 9,
  tickSize: 54, xTitleSize: 62, yTitleSize: 58, xPad: 46, yPad: 40, leftSpace: 188, bottomSpace: 188, rightSpace: 39
})
</script>
</body>
</html>
